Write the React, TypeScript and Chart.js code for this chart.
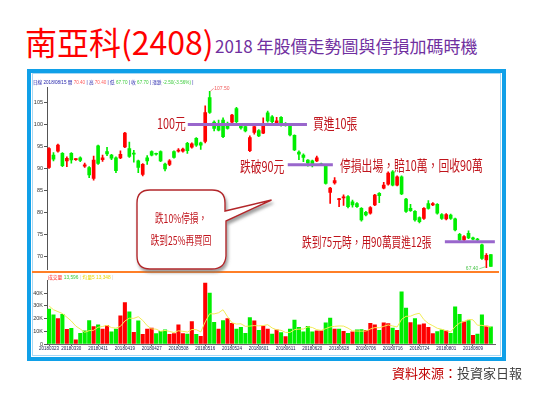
import React, { useEffect, useRef } from "react";
import { Chart, registerables } from "chart.js";

Chart.register(...registerables);

// ---------- data ----------
const dates = [
  "20180323","20180326","20180327","20180328","20180329","20180330","20180331","20180402","20180403","20180409",
  "20180410","20180411","20180412","20180413","20180416","20180417","20180418","20180419","20180420","20180423",
  "20180424","20180425","20180426","20180427","20180430","20180502","20180503","20180504","20180507","20180508",
  "20180509","20180510","20180511","20180514","20180515","20180516","20180517","20180518","20180521","20180522",
  "20180523","20180524","20180525","20180528","20180529","20180530","20180531","20180601","20180604","20180605",
  "20180606","20180607","20180608","20180611","20180612","20180613","20180614","20180615","20180619","20180620",
  "20180621","20180622","20180625","20180626","20180627","20180628","20180629","20180702","20180703","20180704",
  "20180705","20180706","20180709","20180710","20180711","20180712","20180713","20180716","20180717","20180718",
  "20180719","20180720","20180723","20180724","20180725","20180726","20180727","20180730","20180731","20180801",
  "20180802","20180803","20180806","20180807","20180808","20180809","20180810","20180813","20180814","20180815",
];

const openPrices = [
  90.2, 93.0, 93.9, 93.4, 91.7, 93.4, 92.0, 92.4, 90.5, 90.2,
  87.7, 95.1, 92.0, 93.8, 93.0, 92.4, 92.4, 94.9, 94.5, 93.5,
  91.7, 88.6, 92.4, 93.8, 93.3, 93.8, 91.0, 90.9, 93.8, 93.9,
  93.9, 95.7, 94.8, 96.8, 95.8, 96.1, 106.1, 100.5, 100.0, 101.0,
  100.0, 100.5, 103.6, 100.0, 99.5, 94.0, 98.2, 98.6, 98.0, 102.6,
  101.7, 100.4, 101.6, 100.2, 99.8, 97.5, 93.7, 93.0, 91.9, 91.7,
  91.7, 91.0, 90.6, 84.5, 86.7, 82.9, 83.3, 83.6, 82.4, 82.0,
  80.9, 80.0, 79.8, 81.7, 84.3, 85.5, 86.4, 89.2, 86.2, 88.1,
  83.0, 80.9, 80.2, 78.8, 78.6, 82.0, 81.7, 81.8, 79.5, 78.5,
  79.4, 78.5, 75.0, 73.7, 75.2, 74.2, 73.9, 72.6, 69.2, 70.4,
];
const highPrices = [
  94.7, 93.6, 95.5, 93.6, 92.6, 93.6, 92.2, 92.6, 91.2, 90.4,
  92.8, 95.3, 93.0, 94.8, 93.2, 92.6, 94.0, 98.2, 96.0, 94.1,
  91.9, 91.1, 92.9, 94.0, 93.5, 94.0, 91.2, 92.0, 94.0, 94.5,
  94.6, 95.9, 95.8, 97.0, 96.0, 104.2, 107.5, 100.8, 101.0, 101.5,
  100.5, 102.3, 103.9, 100.2, 99.8, 97.4, 100.2, 98.8, 101.5, 103.0,
  102.0, 101.6, 101.8, 100.4, 100.0, 97.6, 94.0, 93.3, 92.0, 91.9,
  92.8, 91.2, 90.8, 85.7, 87.9, 83.2, 84.0, 83.8, 82.8, 82.2,
  81.1, 80.2, 81.3, 84.1, 84.5, 86.8, 89.2, 89.5, 88.3, 88.3,
  83.2, 81.8, 80.4, 79.0, 81.1, 82.7, 82.2, 82.0, 79.7, 79.7,
  79.6, 78.7, 75.2, 74.7, 75.8, 74.4, 74.1, 72.8, 70.6, 70.4,
];
const lowPrices = [
  90.0, 91.7, 93.7, 90.4, 90.4, 91.2, 91.8, 91.5, 90.2, 87.9,
  87.3, 90.9, 91.6, 92.9, 92.0, 89.0, 92.2, 94.7, 92.5, 91.4,
  89.0, 88.3, 90.9, 92.8, 93.0, 91.5, 89.4, 90.6, 92.3, 93.7,
  93.7, 93.4, 94.6, 95.0, 94.3, 95.8, 102.5, 98.5, 98.5, 97.0,
  98.9, 100.2, 100.3, 98.9, 98.3, 93.8, 97.8, 97.2, 97.9, 100.5,
  100.3, 99.9, 99.6, 99.6, 97.4, 94.0, 92.0, 91.5, 90.5, 90.3,
  91.5, 90.7, 86.4, 82.0, 86.4, 81.3, 81.6, 81.0, 81.2, 81.1,
  78.0, 79.2, 79.6, 81.5, 82.2, 85.3, 86.2, 86.0, 86.0, 84.0,
  80.0, 80.2, 78.0, 77.6, 78.4, 80.7, 81.5, 79.6, 78.4, 78.3,
  78.4, 75.8, 73.5, 73.5, 74.0, 73.7, 73.5, 69.3, 67.4, 67.7,
];
const closePrices = [
  94.5, 92.1, 95.3, 90.6, 92.3, 91.9, 92.1, 91.8, 90.8, 88.5,
  91.9, 91.1, 92.4, 93.3, 92.3, 89.5, 93.2, 98.0, 92.7, 93.2,
  90.2, 90.9, 91.7, 93.0, 93.2, 91.7, 89.9, 91.7, 92.5, 94.0,
  94.4, 94.0, 95.6, 95.3, 95.3, 102.7, 102.7, 99.1, 98.7, 97.2,
  99.1, 102.1, 100.6, 99.2, 98.5, 97.0, 99.5, 97.4, 100.1, 100.8,
  100.6, 100.8, 100.2, 99.8, 97.6, 94.2, 93.2, 92.5, 91.2, 90.7,
  92.4, 90.8, 86.6, 85.5, 87.2, 83.1, 83.5, 81.3, 81.7, 81.3,
  78.3, 79.4, 81.1, 83.9, 83.8, 86.2, 88.9, 86.2, 88.1, 84.2,
  80.2, 80.4, 78.3, 77.9, 80.9, 80.9, 82.0, 79.8, 78.6, 79.5,
  78.6, 76.0, 73.7, 74.5, 74.2, 73.9, 73.7, 69.5, 70.2, 67.7,
];

// volume in lots (張)
const volumes = [
  27400, 22900, 20000, 23400, 11600, 12400, 3200, 8400, 10300, 18400,
  13700, 15000, 11800, 14500, 9500, 11800, 22100, 32600, 25300, 9200,
  18200, 7600, 11800, 12600, 8200, 10000, 11100, 7600, 8200, 15000,
  8200, 7900, 17600, 7600, 6100, 47900, 40000, 17100, 11800, 18400,
  20000, 16300, 11800, 13200, 8400, 20800, 18200, 10800, 14200, 11800,
  7900, 11100, 8900, 5800, 11800, 18900, 13200, 9500, 13900, 9500,
  10300, 10300, 16600, 20500, 11800, 11800, 10000, 8400, 9500, 11100,
  11300, 10800, 16300, 15000, 10800, 16600, 16100, 12600, 10800, 41100,
  28200, 16800, 20000, 15000, 15800, 13200, 8200, 9700, 11100, 10300,
  8400, 29200, 23400, 17400, 18400, 6800, 7900, 22900, 14200, 13596,
];
// 1 = up day (red), 0 = down day (green)
const volumeUp = [
  0,0,1,0,1,0,1,0,0,0, 1,0,1,1,0,0,1,1,0,1, 0,1,1,1,0,0,0,1,1,1, 1,0,1,0,1,1,0,0,1,0,
  1,1,0,0,0,0,1,0,1,1, 0,1,0,1,0,0,0,0,0,0, 1,1,0,0,1,0,1,0,1,0, 0,1,1,1,0,1,1,0,1,0,
  0,1,0,1,1,1,1,0,0,1, 0,0,0,1,0,1,0,0,1,0,
];
// 5-day average volume line
const volumeMA5 = [
  30000, 27000, 25500, 24000, 21100, 18100, 14100, 11800, 9200, 10500,
  10800, 13200, 13800, 14700, 12900, 12500, 13900, 18100, 20300, 20200,
  21500, 18600, 14400, 11900, 11700, 10000, 10700, 9900, 9000, 10400,
  10000, 9400, 11400, 11300, 9500, 17400, 23800, 23700, 24600, 27000,
  21500, 16700, 15700, 15900, 13900, 14100, 14500, 14300, 14500, 15200,
  12600, 11200, 10800, 9100, 9100, 11300, 11700, 11800, 13500, 13000,
  11300, 10700, 12100, 13400, 13900, 14200, 14100, 12500, 10300, 10200,
  10100, 10200, 11800, 12900, 12800, 13900, 15000, 14200, 13400, 19400,
  21800, 21900, 23400, 24200, 19200, 16200, 14400, 12400, 11600, 10500,
  9500, 13700, 16500, 17700, 19400, 19000, 14800, 14700, 14000, 13348,
];

const priceTickLabels = [70, 75, 80, 85, 90, 95, 100, 105];
const volumeTickLabels = [0, 10000, 20000, 30000, 40000];
const dateTickLabels = [
  "20180323","20180330","20180411","20180419","20180427","20180508","20180516","20180524","20180601",
  "20180611","20180620","20180628","20180706","20180716","20180724","20180801","20180809",
];

// guide lines (x in trading-day index, y in price)
const guideFrom = [31.1, 53.5, 88.7];
const guideTo = [57.8, 63.6, 99.9];
const guideValue = [100.0, 90.8, 73.3];

// ---------- styles ----------
const UP = "#ff0000";
const DOWN = "#00ee00";
const PURPLE = "#9966cc";
const NOTE = "#c0141c";
const CJK = '"Noto Sans CJK TC", "Noto Sans CJK SC", sans-serif';
const SMALL = '"Liberation Sans", "Noto Sans CJK TC", sans-serif';
const X_MIN = -0.45;
const X_MAX = 100;

const hiLoPlugin = {
  id: "hiLo",
  afterDatasetsDraw(chart: any) {
    const { ctx, scales } = chart;
    const x = scales.x;
    const y = scales.y;
    const hiIdx = highPrices.indexOf(Math.max(...highPrices));
    const loIdx = lowPrices.indexOf(Math.min(...lowPrices));
    ctx.save();
    ctx.font = `5px ${SMALL}`;
    ctx.lineWidth = 0.8;
    let px = x.getPixelForValue(hiIdx);
    let py = y.getPixelForValue(highPrices[hiIdx]);
    ctx.strokeStyle = "#f07a7a";
    ctx.beginPath();
    ctx.moveTo(px + 0.5, py);
    ctx.lineTo(px + 4, py - 3);
    ctx.stroke();
    ctx.fillStyle = "#f05a5a";
    ctx.textAlign = "left";
    ctx.textBaseline = "middle";
    ctx.fillText(highPrices[hiIdx].toFixed(2), px + 4.5, py - 3);
    px = x.getPixelForValue(loIdx);
    py = y.getPixelForValue(lowPrices[loIdx]);
    ctx.strokeStyle = "#6fd96f";
    ctx.beginPath();
    ctx.moveTo(px - 1, py - 1);
    ctx.lineTo(px - 7, py + 1);
    ctx.stroke();
    ctx.fillStyle = "#4cc44c";
    ctx.textAlign = "right";
    ctx.fillText(lowPrices[loIdx].toFixed(2), px - 8, py + 1);
    ctx.restore();
  },
};

function Note(props: { x: number; y: number; size: number; sx?: number; children: any }) {
  const { x, y, size, sx = 0.72, children } = props;
  return (
    <div
      style={{
        position: "absolute",
        left: x,
        top: y,
        fontSize: size,
        lineHeight: `${size}px`,
        color: NOTE,
        fontFamily: CJK,
        whiteSpace: "nowrap",
        transform: `scaleX(${sx})`,
        transformOrigin: "0 0",
      }}
    >
      {children}
    </div>
  );
}

export default function App() {
  const priceRef = useRef<HTMLCanvasElement>(null);
  const volRef = useRef<HTMLCanvasElement>(null);

  useEffect(() => {
    const idx = dates.map((_, i) => i);
    const candleColors = idx.map((i) => (closePrices[i] >= openPrices[i] ? UP : DOWN));
    const volColors = idx.map((i) => (volumeUp[i] ? UP : DOWN));

    const xScale = (extra: any) => ({
      type: "linear",
      min: X_MIN,
      max: X_MAX,
      offset: false,
      bounds: "data",
      ...extra,
    });

    const priceChart = new Chart(priceRef.current as HTMLCanvasElement, {
      type: "bar",
      data: {
        datasets: [
          ...guideValue.map((v, k) => ({
            type: "line" as const,
            data: [
              { x: guideFrom[k], y: v },
              { x: guideTo[k], y: v },
            ],
            borderColor: PURPLE,
            borderWidth: 3,
            pointRadius: 0,
            order: 0,
          })),
          {
            type: "bar" as const,
            data: idx.map((i) => ({ x: i, y: [lowPrices[i], highPrices[i]] })),
            backgroundColor: candleColors,
            barThickness: 1,
            grouped: false,
            order: 2,
          },
          {
            type: "bar" as const,
            data: idx.map((i) => ({ x: i, y: [openPrices[i], closePrices[i]] })),
            backgroundColor: candleColors,
            barThickness: 3,
            minBarLength: 1,
            grouped: false,
            order: 1,
          },
        ] as any,
      },
      options: {
        responsive: false,
        animation: false,
        layout: { padding: { left: 27, right: 38.7, top: 87, bottom: 123.5 }, autoPadding: false } as any,
        plugins: { legend: { display: false }, tooltip: { enabled: false } },
        scales: {
          x: xScale({
            afterBuildTicks: (s: any) => {
              s.ticks = dateTickLabels.map((d) => ({ value: dates.indexOf(d) }));
            },
            afterFit: (s: any) => {
              s.height = 0;
            },
            ticks: { display: false },
            grid: { display: false, offset: false },
            border: { display: false },
          }),
          y: {
            type: "linear",
            min: 67,
            max: 108.5,
            afterFit: (s: any) => {
              s.width = 20;
            },
            afterBuildTicks: (s: any) => {
              s.ticks = priceTickLabels.map((v) => ({ value: v }));
            },
            ticks: { font: { size: 5.5, family: SMALL }, color: "#333", padding: 1 },
            grid: { drawOnChartArea: false, tickLength: 3, color: "#555" },
            border: { color: "#555" },
          },
        } as any,
      },
      plugins: [hiLoPlugin],
    });

    const volChart = new Chart(volRef.current as HTMLCanvasElement, {
      type: "bar",
      data: {
        datasets: [
          {
            type: "line" as const,
            data: idx.map((i) => ({ x: i, y: volumeMA5[i] })),
            borderColor: "#f2ec55",
            borderWidth: 1,
            pointRadius: 0,
            tension: 0,
            order: 0,
          },
          {
            type: "bar" as const,
            data: idx.map((i) => ({ x: i, y: volumes[i] })),
            backgroundColor: volColors,
            barThickness: 3.4,
            order: 1,
          },
        ] as any,
      },
      options: {
        responsive: false,
        animation: false,
        layout: { padding: { left: 27, right: 38.7, top: 280.5, bottom: 41 }, autoPadding: false } as any,
        plugins: { legend: { display: false }, tooltip: { enabled: false } },
        scales: {
          x: xScale({
            afterBuildTicks: (s: any) => {
              s.ticks = dateTickLabels.map((d) => ({ value: dates.indexOf(d) }));
            },
            afterFit: (s: any) => {
              s.height = 8;
            },
            ticks: {
              autoSkip: false,
              maxRotation: 0,
              font: { size: 4.5, family: SMALL },
              color: "#222255",
              padding: 0.5,
              callback: (v: any) => dates[v as number] ?? "",
            },
            grid: { drawOnChartArea: false, tickLength: 2, color: "#666", offset: false },
            border: { color: "#666" },
          }),
          y: {
            type: "linear",
            min: 0,
            max: 50000,
            afterFit: (s: any) => {
              s.width = 20;
            },
            afterBuildTicks: (s: any) => {
              s.ticks = volumeTickLabels.map((v) => ({ value: v }));
            },
            ticks: {
              font: { size: 5.5, family: SMALL },
              color: "#333",
              padding: 1,
              callback: (v: any) => (v === 0 ? "0" : `${(v as number) / 1000}K`),
            },
            grid: { drawOnChartArea: false, tickLength: 3, color: "#555" },
            border: { color: "#555" },
          },
        } as any,
      },
    });

    return () => {
      priceChart.destroy();
      volChart.destroy();
    };
  }, []);

  const last = dates.length - 1;
  const change = closePrices[last] - closePrices[last - 1];
  const pct = (change / closePrices[last - 1]) * 100;
  const d = dates[last];
  const lastDate = `${d.slice(0, 4)}/${d.slice(4, 6)}/${d.slice(6, 8)}`;
  const lab = { color: "#1c1ca8" };
  const red = { color: "#ff5a5a" };
  const grn = { color: "#3ccc3c" };

  return (
    <div style={{ position: "absolute", left: 0, top: 0, width: 534, height: 393, background: "#fff", overflow: "hidden" }}>
      {/* title */}
      <div style={{ position: "absolute", left: 25, top: 24.5, fontSize: 32, lineHeight: "32px", color: "#ff0000", fontFamily: CJK, whiteSpace: "nowrap" }}>
        南亞科(2408)
      </div>
      <div style={{ position: "absolute", left: 215, top: 36.5, fontSize: 17, lineHeight: "17px", color: "#7030a0", fontFamily: CJK, whiteSpace: "nowrap" }}>
        2018 年股價走勢圖與停損加碼時機
      </div>

      {/* frame */}
      <div style={{ position: "absolute", left: 27, top: 68.5, width: 478.5, height: 292, boxSizing: "border-box", border: "4.5px solid #10a0e8", background: "#fff" }}>
        <div style={{ position: "absolute", left: 0.5, top: 0.5, right: 0.5, bottom: 0.5, border: "1px solid #a6d8f5" }} />
      </div>
      <div style={{ position: "absolute", left: 32, top: 271, width: 467, height: 1.5, background: "#ff7f27" }} />

      {/* charts */}
      <canvas ref={priceRef} width={534} height={393} style={{ position: "absolute", left: 0, top: 0, width: 534, height: 393 }} />
      <canvas ref={volRef} width={534} height={393} style={{ position: "absolute", left: 0, top: 0, width: 534, height: 393 }} />

      {/* small headers */}
      <div style={{ position: "absolute", left: 33, top: 79.8, fontSize: 4.6, lineHeight: "5px", fontFamily: SMALL, whiteSpace: "nowrap", color: "#1c1ca8" }}>
        <span style={lab}>日線</span> {lastDate} <span style={lab}>開</span> <span style={red}>{openPrices[last].toFixed(2)}</span> | <span style={lab}>高</span>{" "}
        <span style={red}>{highPrices[last].toFixed(2)}</span> | <span style={lab}>低</span> <span style={grn}>{lowPrices[last].toFixed(2)}</span> |{" "}
        <span style={lab}>收</span> <span style={grn}>{closePrices[last].toFixed(2)}</span> | <span style={lab}>漲跌</span>{" "}
        <span style={grn}>
          {change.toFixed(2)}({pct.toFixed(2)}%)
        </span>{" "}
        |
      </div>
      <div style={{ position: "absolute", left: 48, top: 274.8, fontSize: 4.8, lineHeight: "5px", fontFamily: SMALL, whiteSpace: "nowrap" }}>
        <span style={{ color: "#ff2020" }}>成交量</span> <span style={{ color: "#3ccc3c" }}>{volumes[last].toLocaleString("en-US")}</span>{" "}
        <span style={{ color: "#ccc" }}>|</span> <span style={{ color: "#e8d800" }}>均量5 {volumeMA5[last].toLocaleString("en-US")}</span>{" "}
        <span style={{ color: "#ccc" }}>|</span>
      </div>

      {/* annotations */}
      <Note x={157} y={115} size={15}>100元</Note>
      <Note x={313} y={114.5} size={15}>買進10張</Note>
      <Note x={240} y={158} size={15}>跌破90元</Note>
      <Note x={340} y={156.5} size={15}>停損出場，賠10萬，回收90萬</Note>
      <Note x={302} y={235.3} size={13.5}>跌到75元時，用90萬買進12張</Note>

      {/* speech bubble */}
      <svg width={534} height={393} style={{ position: "absolute", left: 0, top: 0, pointerEvents: "none" }}>
        <defs>
          <filter id="bubbleShadow" x="-20%" y="-20%" width="150%" height="150%">
            <feDropShadow dx="1.5" dy="3" stdDeviation="1.5" floodColor="#777" floodOpacity="0.7" />
          </filter>
        </defs>
        <path
          d="M150 190 H212 Q225 190 225 203 V211 L271.5 200 L226 221 V256 Q225 269 212 269 H150 Q137 269 137 256 V203 Q137 190 150 190 Z"
          fill="#fff"
          stroke="#b3262a"
          strokeWidth={1.4}
          filter="url(#bubbleShadow)"
        />
      </svg>
      <div style={{ position: "absolute", left: 137, top: 211.7, width: 88, textAlign: "center", fontSize: 12, lineHeight: "12px", color: NOTE, fontFamily: CJK, whiteSpace: "nowrap", transform: "scaleX(0.72)" }}>
        跌10%停損，
      </div>
      <div style={{ position: "absolute", left: 137, top: 233.7, width: 88, textAlign: "center", fontSize: 12, lineHeight: "12px", color: NOTE, fontFamily: CJK, whiteSpace: "nowrap", transform: "scaleX(0.72)" }}>
        跌到25%再買回
      </div>

      {/* source */}
      <div style={{ position: "absolute", left: 392, top: 365.5, fontSize: 13, lineHeight: "13px", fontFamily: CJK, whiteSpace: "nowrap" }}>
        <span style={{ color: "#c00000" }}>資料來源：</span>
        <span style={{ color: "#404040" }}>投資家日報</span>
      </div>
    </div>
  );
}
